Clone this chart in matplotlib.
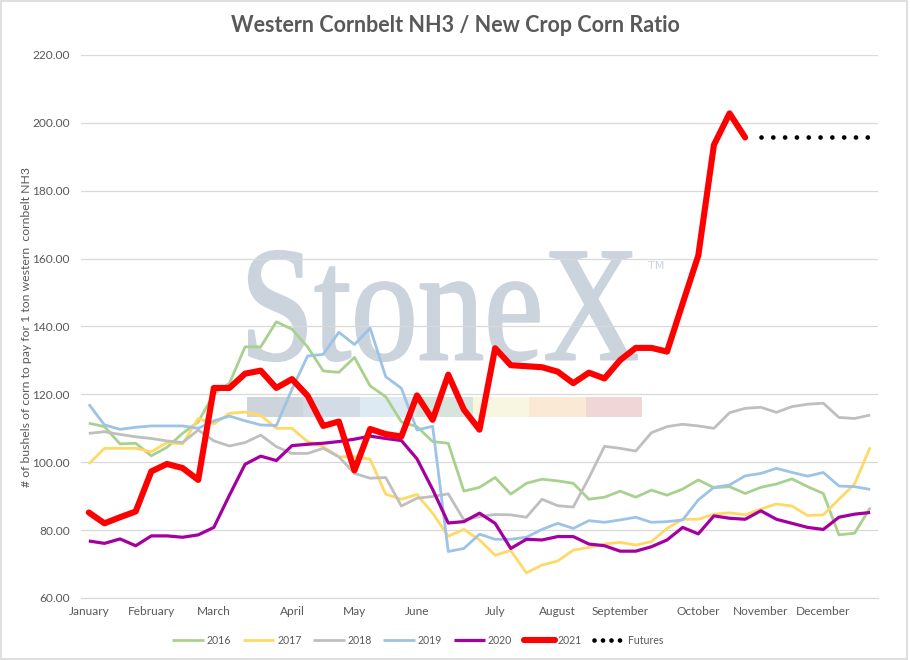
import matplotlib
matplotlib.use("Agg")
import matplotlib.pyplot as plt
import numpy as np
from matplotlib.lines import Line2D
from matplotlib.patches import Rectangle, PathPatch
from matplotlib.textpath import TextPath
from matplotlib.font_manager import FontProperties
from matplotlib.transforms import Affine2D

# ---------------- data ----------------
month_labels = ["January", "February", "March", "April", "May", "June",
                "July", "August", "September", "October", "November", "December"]
month_pos = [0, 4, 8, 13, 17, 21, 26, 30, 34, 39, 43, 47]

y2016 = [111.5, 110.5, 105.4, 105.6, 101.9, 104.4, 108.5, 111.9, 120.1, 123.3,
         134.0, 134.0, 141.4, 139.2, 134.0, 126.9, 126.5, 130.9, 122.5, 119.3,
         111.9, 110.5, 106.1, 105.6, 91.5, 92.6, 95.5, 90.6, 93.8, 95.0,
         94.5, 93.8, 89.1, 89.7, 91.5, 89.7, 91.8, 90.3, 92.1, 94.8,
         92.5, 92.8, 90.8, 92.6, 93.6, 95.1, 92.8, 90.8, 78.6, 79.1, 86.6]
y2017 = [99.5, 104.1, 104.1, 104.1, 103.1, 105.8, 105.4, 112.9, 111.3, 114.4,
         114.8, 113.8, 110.0, 110.0, 106.1, 104.6, 101.6, 101.6, 100.9, 90.6,
         89.1, 90.5, 85.0, 78.2, 80.2, 77.1, 72.6, 74.0, 67.4, 69.7,
         70.9, 74.1, 74.9, 75.9, 76.4, 75.6, 76.6, 80.5, 83.2, 83.2,
         84.7, 85.1, 84.5, 86.2, 87.7, 87.1, 84.3, 84.5, 89.1, 93.6, 104.4]
y2018 = [108.5, 109.0, 108.2, 107.5, 107.0, 106.3, 105.8, 109.5, 106.3, 104.8,
         105.8, 108.0, 104.6, 102.6, 102.6, 104.1, 101.6, 96.7, 95.3, 95.5,
         87.1, 89.4, 89.9, 90.7, 83.0, 84.0, 84.6, 84.5, 83.8, 89.1,
         87.2, 86.8, 95.4, 104.7, 104.1, 103.3, 108.7, 110.5, 111.2, 110.7,
         110.0, 114.6, 115.9, 116.2, 114.7, 116.4, 117.1, 117.4, 113.2, 112.9, 113.9]
y2019 = [117.1, 111.0, 109.7, 110.3, 110.7, 110.7, 110.7, 110.0, 112.2, 113.6,
         112.2, 111.0, 110.8, 121.5, 131.3, 131.8, 138.3, 134.7, 139.5, 125.2,
         121.8, 109.5, 110.6, 73.7, 74.6, 78.8, 77.3, 77.3, 77.9, 80.2,
         82.0, 80.5, 82.8, 82.3, 83.0, 83.8, 82.3, 82.5, 83.0, 88.9,
         92.6, 93.3, 96.0, 96.7, 98.2, 97.0, 95.9, 97.0, 93.0, 92.8, 92.0]
y2020 = [76.8, 76.1, 77.4, 75.4, 78.3, 78.3, 77.9, 78.6, 80.8, 90.3,
         99.4, 101.8, 100.5, 104.9, 105.3, 105.6, 106.1, 106.8, 107.7, 107.0,
         106.4, 101.0, 92.0, 82.1, 82.5, 85.0, 82.0, 74.6, 77.3, 77.1,
         78.1, 78.1, 75.9, 75.4, 73.8, 73.8, 75.1, 77.1, 80.8, 78.9,
         84.2, 83.5, 83.2, 85.7, 83.2, 82.0, 80.8, 80.2, 83.8, 84.7, 85.2]
y2021 = [85.2, 82.0, 83.8, 85.5, 97.3, 99.5, 98.3, 94.8, 121.9, 121.9,
         126.1, 127.0, 121.9, 124.5, 119.6, 110.7, 112.0, 97.6, 109.8, 108.3,
         107.6, 119.7, 112.5, 125.8, 115.5, 109.6, 133.6, 128.6, 128.3, 128.0,
         126.7, 123.3, 126.4, 124.7, 130.1, 133.7, 133.7, 132.6, 146.8, 160.9,
         193.5, 202.8, 195.7]
futures_start = 43
futures_value = 195.7
n_weeks = 51

series_names = ["2016", "2017", "2018", "2019", "2020", "2021"]
series_data = [y2016, y2017, y2018, y2019, y2020, y2021]
series_colors = ["#a9d18e", "#ffd966", "#bfbfbf", "#9dc3e6", "#a5009f", "#ff0000"]
series_lw = [2.0, 2.0, 2.0, 2.0, 2.3, 4.4]

TXT = "#595959"
GRID = "#d9d9d9"
FONT = "Lato"

# ---------------- figure ----------------
W, H = 910, 660
fig = plt.figure(figsize=(W / 100, H / 100), dpi=100)
L, R, T, B = 81, 878, 55, 598
ax = fig.add_axes([L / W, 1 - B / H, (R - L) / W, (B - T) / H])

ax.set_xlim(-0.5, n_weeks - 0.5)
ax.set_ylim(60, 220)
ax.set_yticks(np.arange(60, 221, 20))
ax.set_yticklabels([f"{v:.2f}" for v in np.arange(60, 221, 20)])
ax.set_xticks(month_pos)
ax.set_xticklabels(month_labels)
ax.tick_params(axis="both", length=0, labelsize=8.6, labelcolor=TXT)
ax.tick_params(axis="y", pad=8)
ax.tick_params(axis="x", pad=6)
for lab in ax.get_xticklabels() + ax.get_yticklabels():
    lab.set_fontfamily(FONT)
for s in ["top", "right", "left"]:
    ax.spines[s].set_visible(False)
ax.spines["bottom"].set_color(GRID)
ax.spines["bottom"].set_linewidth(0.9)
ax.yaxis.grid(True, color=GRID, linewidth=0.9, zorder=0.6)
ax.set_axisbelow(True)

# ---------------- watermark (StoneX logo) ----------------
wm_col = "#cbd3dd"
fp = FontProperties(family="Liberation Serif")
tp = TextPath((0, 0), "StoneX", prop=fp, size=100)
ext = tp.get_extents()
x0, x1, y0, y1 = 249, 637, 251, 361  # pixel box (top-left origin)
sx = (x1 - x0) / W / ext.width
sy = (y1 - y0) / H / ext.height
tr = Affine2D().translate(-ext.x0, -ext.y0).scale(sx, sy).translate(x0 / W, 1 - y1 / H)
wm = PathPatch(tr.transform_path(tp), facecolor=wm_col, edgecolor=wm_col, linewidth=1.6,
               joinstyle="round", transform=fig.transFigure, zorder=0.3, clip_on=False)
ax.add_artist(wm)
ax.text(648 / W, 1 - 266 / H, "TM", transform=fig.transFigure, fontsize=8,
        color=wm_col, family="DejaVu Sans", va="center", ha="left", zorder=0.3)
stripe_cols = ["#cdd4dc", "#d2dbe6", "#dde9f3", "#d6e4dc", "#f8f6e0", "#fae9d4", "#f1d6d8"]
sx0, sx1, sy0, sy1 = 247, 642, 397, 417
sw = (sx1 - sx0) / len(stripe_cols)
for i, c in enumerate(stripe_cols):
    ax.add_artist(Rectangle(((sx0 + i * sw) / W, 1 - sy1 / H), sw / W, (sy1 - sy0) / H,
                            transform=fig.transFigure, facecolor=c, edgecolor="none",
                            zorder=0.3, clip_on=False))

# ---------------- lines ----------------
handles = []
for name, data, col, lw in zip(series_names, series_data, series_colors, series_lw):
    x = np.arange(len(data))
    cap = "round" if name == "2021" else "butt"
    ax.plot(x, data, color=col, lw=lw, solid_joinstyle="round",
            solid_capstyle=cap, zorder=2, label=name)
    handles.append(Line2D([0], [0], color=col, lw=lw, solid_capstyle=cap))

fx = np.arange(futures_start, n_weeks)
fy = [futures_value] * len(fx)
ax.plot(fx, fy, color="black", lw=3.4, linestyle=(0, (0.001, 2.5)),
        dash_capstyle="round", zorder=2)
handles.append(Line2D([0], [0], color="black", lw=3.4, linestyle=(0, (0.001, 1.8)),
                      dash_capstyle="round"))

leg = fig.legend(handles, series_names + ["Futures"], loc="center",
                 bbox_to_anchor=(418 / W, 1 - 640 / H), ncol=7, frameon=False,
                 handlelength=3.0, handletextpad=0.25, columnspacing=1.1,
                 prop=FontProperties(family=FONT, size=7.6))
for t in leg.get_texts():
    t.set_color(TXT)

# ---------------- texts ----------------
fig.text(455 / W, 1 - 26 / H, "Western Cornbelt NH3 / New Crop Corn Ratio",
         ha="center", va="center", fontsize=15.5, fontweight="bold", color=TXT, family=FONT)
fig.text(27 / W, 1 - 327 / H, "# of bushels of corn to pay for 1 ton western  cornbelt NH3",
         rotation=90, ha="center", va="center", fontsize=8.8, color=TXT, family=FONT)

# border
fig.patches.append(Rectangle((0.5 / W, 1 - 659 / H), 906.5 / W, 658.5 / H,
                             transform=fig.transFigure, fill=False,
                             edgecolor=GRID, lw=1.2))

fig.savefig("out.png", dpi=100)
